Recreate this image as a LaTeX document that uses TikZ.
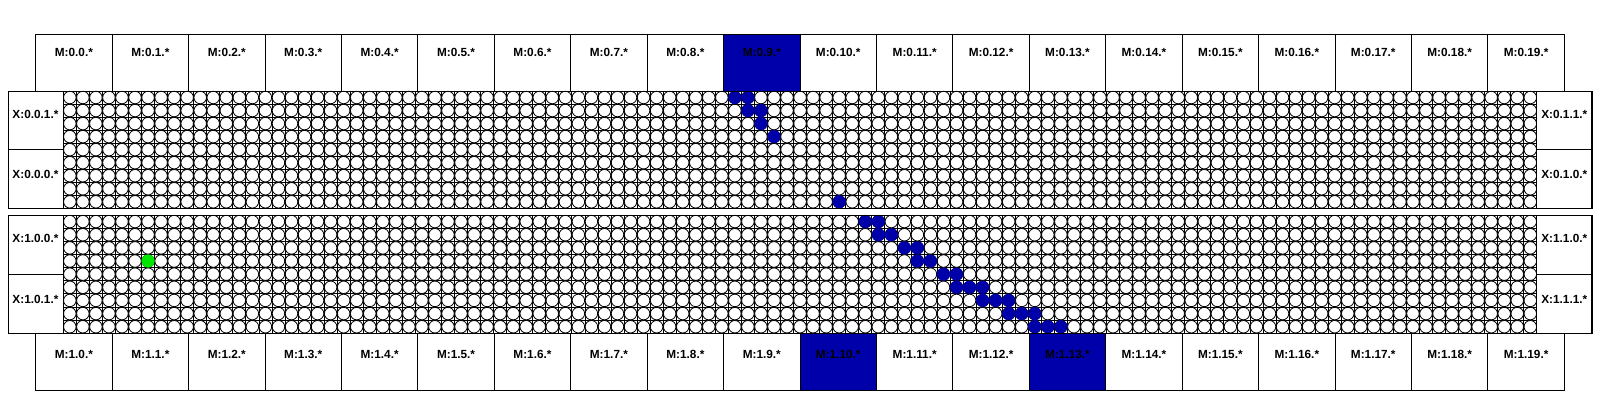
\documentclass[tikz,border=0pt]{standalone}
\usepackage{fontspec}
\setmainfont{Liberation Sans}
\usetikzlibrary{calc}
\definecolor{nodeblue}{RGB}{0,0,170}
\definecolor{nodegreen}{RGB}{0,230,0}
\begin{document}
\begin{tikzpicture}[x=1pt,y=-1pt,line width=0.9pt,
  lbl/.style={font=\fontsize{11.8}{13}\selectfont\bfseries,inner sep=0pt,outer sep=0pt},
  mbox/.style={draw=black,minimum width=76.43pt,minimum height=56.7pt,inner sep=0pt,outer sep=0pt,anchor=north west},
  xbox/.style={draw=black,minimum width=55pt,minimum height=58.65pt,inner sep=0pt,outer sep=0pt,anchor=north west},
  hot/.style={fill=nodeblue},
  cell/.style={draw=black,line width=0.8pt},
  bdot/.style={fill=nodeblue},
  gdot/.style={fill=nodegreen}]
\useasboundingbox (0,0) rectangle (1600,400);
\fill[white] (0,0) rectangle (1600,400);
\def\px{13.04}
% ---------- grids ----------
\foreach \yy/\py in {91/13.033, 215/13.144}{
  \foreach \c in {0,...,113}{\draw[cell] (63.3+\c*\px,\yy) -- ++(0,9*\py);}
  \foreach \r in {0,...,9}{\draw[cell] (63.3,\yy+\r*\py) -- ++(113*\px,0);}
  \foreach \r in {0,...,8}{\foreach \c in {0,...,112}{
     \draw[cell,fill=white] (63.3+\c*\px+0.5*\px,\yy+\r*\py+0.5*\py) circle[radius=6.25];}}
}
% ---------- blue and green dots ----------
\foreach \c/\r in {51/0,52/0,52/1,53/1,53/2,54/3,59/8}{
  \fill[bdot] (63.3+\c*\px+0.5*\px,91+\r*13.033+6.52) circle[radius=6.6];}
\foreach \c/\r in {61/0,62/0,62/1,63/1,64/2,65/2,65/3,66/3,67/4,68/4,68/5,69/5,70/5,70/6,71/6,72/6,72/7,73/7,74/7,74/8,75/8,76/8}{
  \fill[bdot] (63.3+\c*\px+0.5*\px,215+\r*13.144+6.57) circle[radius=6.6];}
\fill[gdot] (63.3+6*\px+0.5*\px,215+3*13.144+6.57) circle[radius=6.6];
% ---------- M boxes ----------
\foreach \i in {0,...,19}{
  \ifnum\i=9
    \node[mbox,hot] (mt\i) at (35.7+\i*76.43,34.3) {};
  \else
    \node[mbox] (mt\i) at (35.7+\i*76.43,34.3) {};
  \fi
  \node[lbl] (lmt\i) at ($(mt\i.north)+(0,18.5)$) {M:0.\i.*};
  \ifnum\i=10
    \node[mbox,hot] (mb\i) at (35.7+\i*76.43,333.3) {};
  \else\ifnum\i=13
    \node[mbox,hot] (mb\i) at (35.7+\i*76.43,333.3) {};
  \else
    \node[mbox] (mb\i) at (35.7+\i*76.43,333.3) {};
  \fi\fi
  \node[lbl] (lmb\i) at ($(mb\i.north)+(0,20.7)$) {M:1.\i.*};
}
% ---------- X boxes ----------
\node[xbox] (xl01) at (8.3,91) {};
\node[xbox] (xl00) at (8.3,149.65) {};
\node[xbox] (xr11) at (1536.7,91) {};
\node[xbox] (xr10) at (1536.7,149.65) {};
\node[xbox,minimum height=59.15pt] (xl10) at (8.3,215) {};
\node[xbox,minimum height=59.15pt] (xl11) at (8.3,274.15) {};
\node[xbox,minimum height=59.15pt] (xr10b) at (1536.7,215) {};
\node[xbox,minimum height=59.15pt] (xr11b) at (1536.7,274.15) {};
\node[lbl,anchor=west] (txl01) at (12.5,114.5) {X:0.0.1.*};
\node[lbl,anchor=west] (txl00) at (12.5,174) {X:0.0.0.*};
\node[lbl,anchor=west] (txl10) at (12.5,238) {X:1.0.0.*};
\node[lbl,anchor=west] (txl11) at (12.5,299.5) {X:1.0.1.*};
\node[lbl,anchor=west] (txr11) at (1541.3,114.5) {X:0.1.1.*};
\node[lbl,anchor=west] (txr10) at (1541.3,174) {X:0.1.0.*};
\node[lbl,anchor=west] (txr10b) at (1541.3,238) {X:1.1.0.*};
\node[lbl,anchor=west] (txr11b) at (1541.3,299.5) {X:1.1.1.*};
% outer block borders
\draw (8.3,91) rectangle (1592.3,208.3);
\draw (8.3,215) rectangle (1592.3,333.3);
\end{tikzpicture}
\end{document}
